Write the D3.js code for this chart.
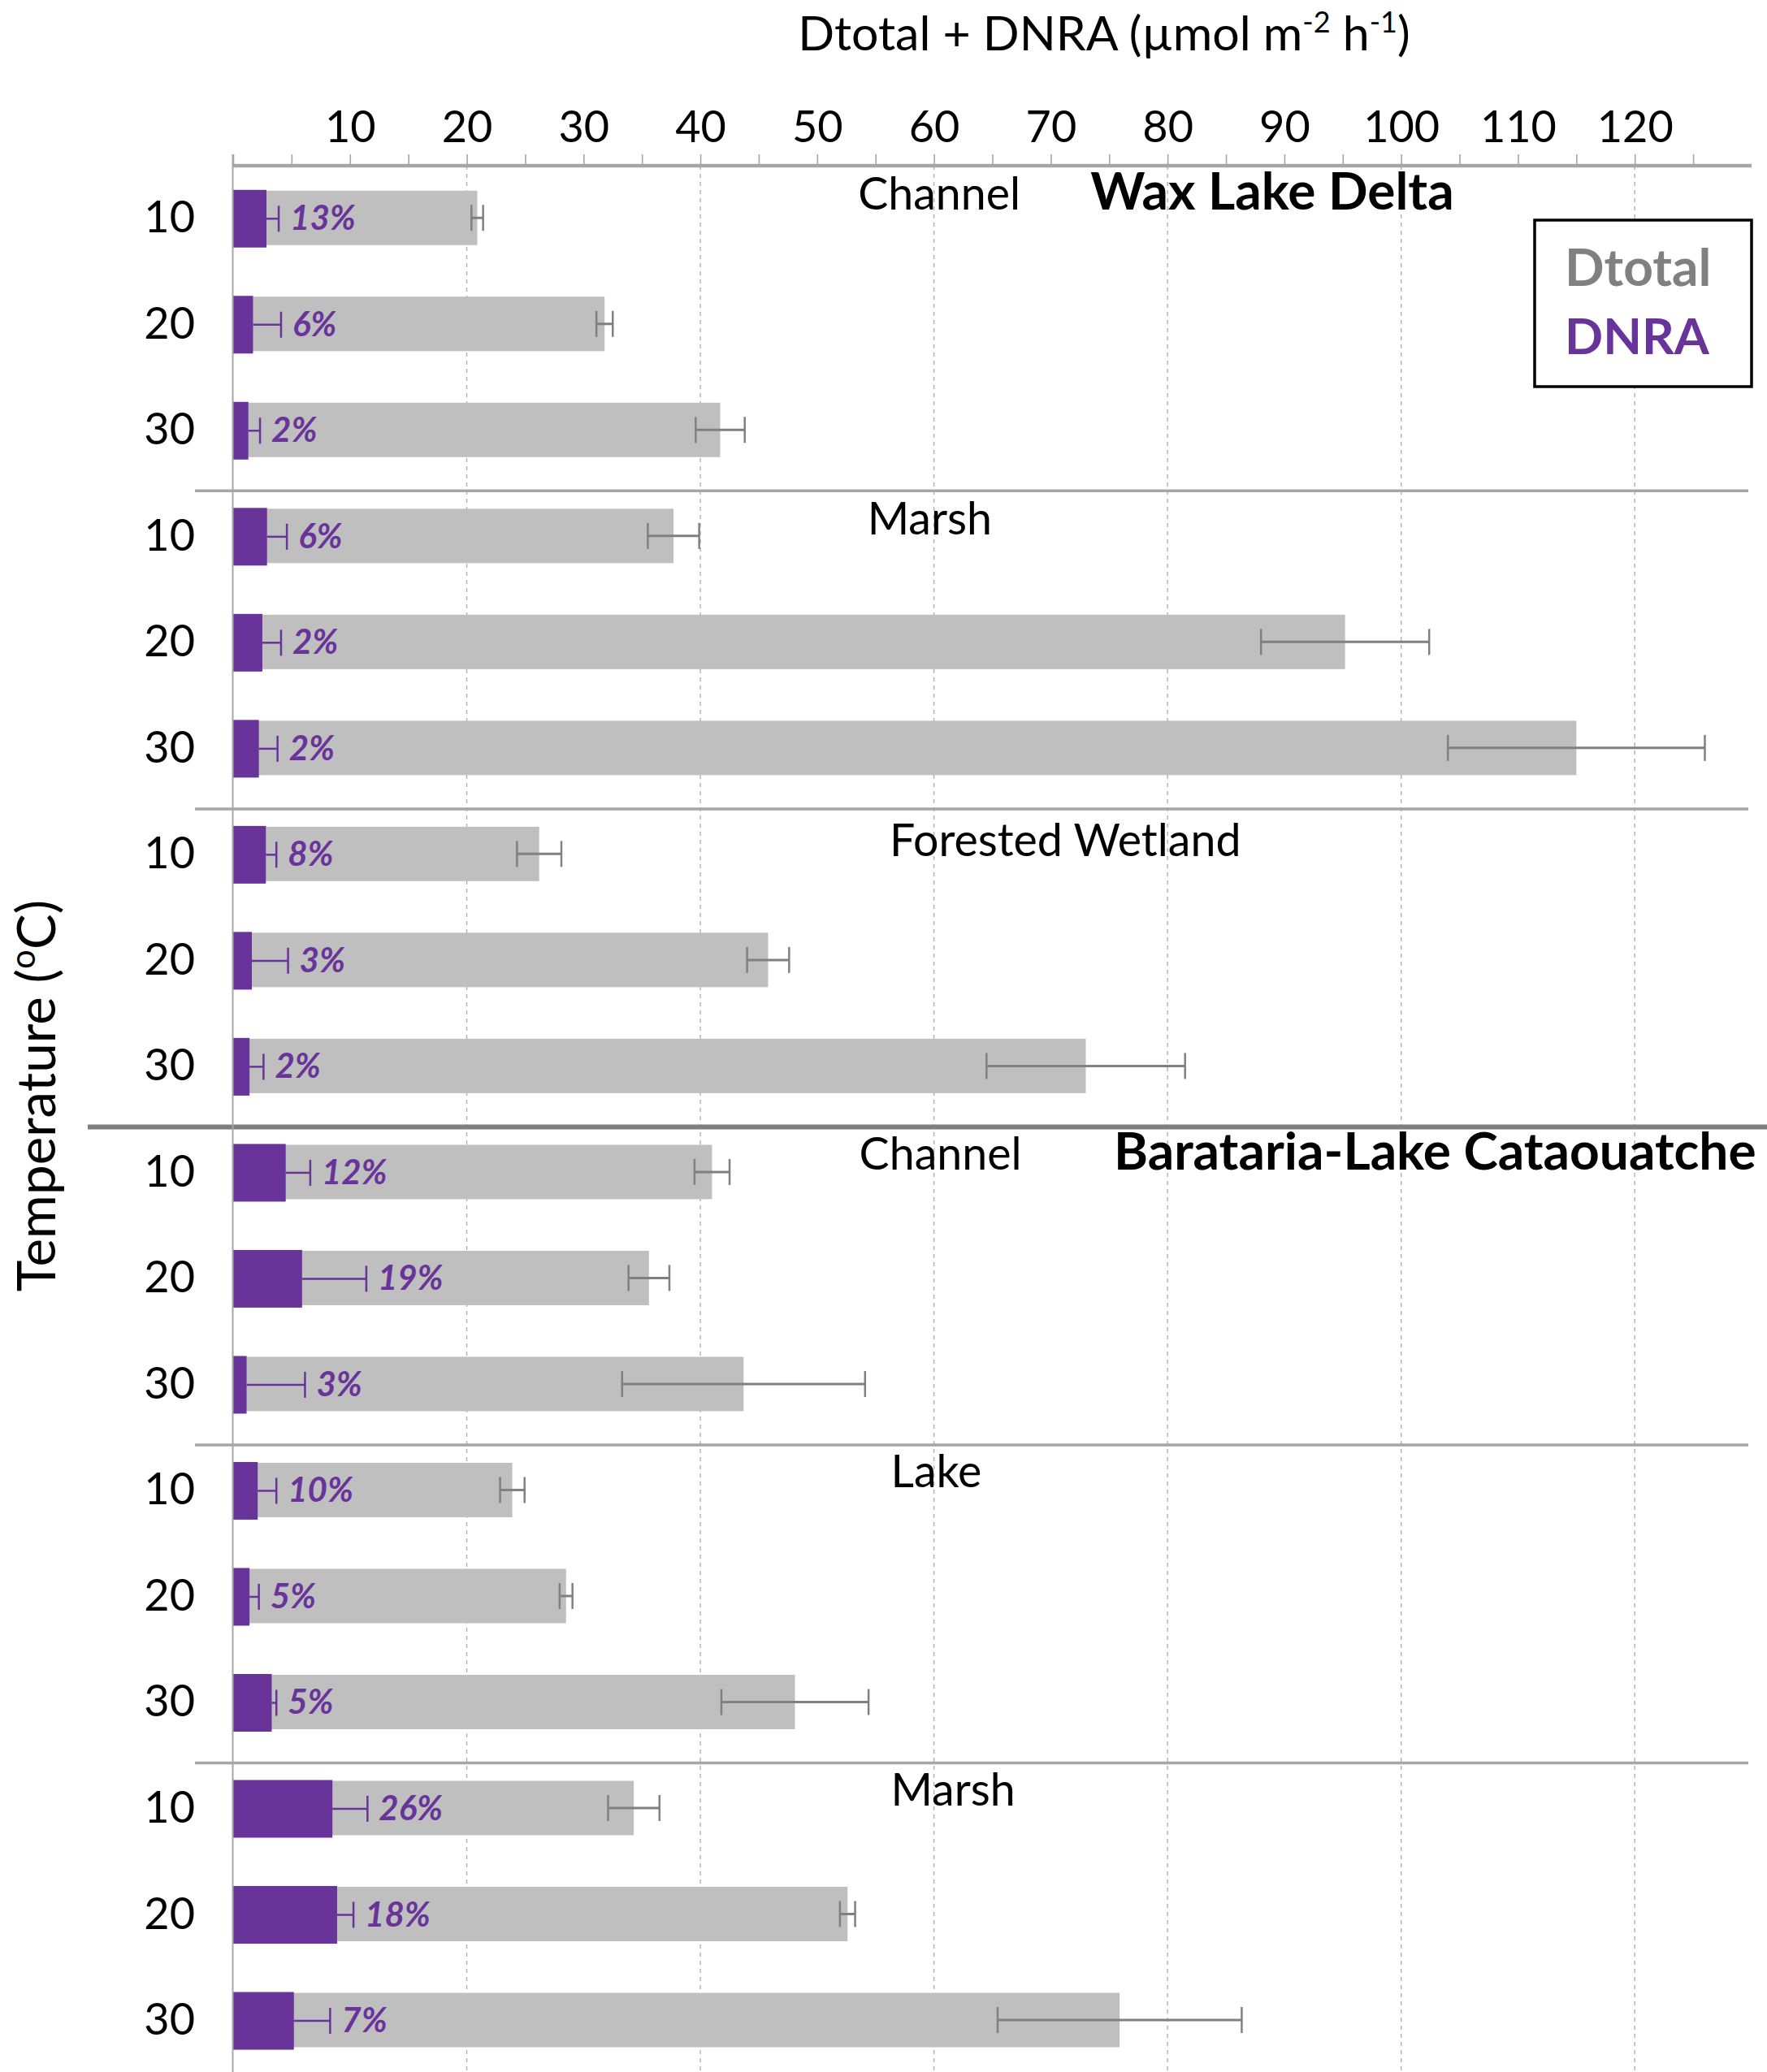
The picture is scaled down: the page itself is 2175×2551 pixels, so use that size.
<!DOCTYPE html>
<html>
<head>
<meta charset="utf-8">
<script src="https://cdn.jsdelivr.net/npm/d3@7"></script>
<style>
  html, body { margin: 0; padding: 0; background: #fff; }
  svg { display: block; font-family: Lato, "Noto Sans", sans-serif; }
</style>
</head>
<body>
<svg id="chart" width="2175" height="2551"></svg>
<script>
// ---- data ----
const deltas = ["Wax Lake Delta", "Barataria-Lake Cataouatche"];
const habitats = ["Channel", "Marsh", "Forested Wetland", "Channel", "Lake", "Marsh"];
const temperatures = [10, 20, 30, 10, 20, 30, 10, 20, 30, 10, 20, 30, 10, 20, 30, 10, 20, 30];
// Dtotal + DNRA, µmol m-2 h-1 (mean and error)
const totalFlux = [20.9, 31.8, 41.7, 37.7, 95.2, 115.0, 26.2, 45.8, 73.0, 41.0, 35.6, 43.7, 23.9, 28.5, 48.1, 34.3, 52.6, 75.9];
const totalErr  = [0.5, 0.7, 2.1, 2.2, 7.2, 11.0, 1.9, 1.8, 8.5, 1.5, 1.75, 10.4, 1.05, 0.55, 6.3, 2.2, 0.65, 10.45];
// DNRA, µmol m-2 h-1 (mean and error)
const dnraFlux  = [2.85, 1.7, 1.3, 2.9, 2.5, 2.2, 2.8, 1.6, 1.4, 4.5, 5.9, 1.15, 2.1, 1.4, 3.3, 8.5, 8.9, 5.2];
const dnraErr   = [1.05, 2.4, 1.0, 1.7, 1.6, 1.6, 0.9, 3.1, 1.2, 2.1, 5.5, 5.0, 1.6, 0.8, 0.4, 3.0, 1.4, 3.1];
// DNRA share of the total, %
const dnraShare = [13, 6, 2, 6, 2, 2, 8, 3, 2, 12, 19, 3, 10, 5, 5, 26, 18, 7];
const xTickLabels = [10, 20, 30, 40, 50, 60, 70, 80, 90, 100, 110, 120];

// ---- layout ----
const W = 2175, H = 2551;
const C = {
  purple: "#68349a",
  gray: "#bfbfbf",
  errGray: "#808080",
  axis: "#a6a6a6",
  grid: "#b4b4b4"
};
// habitat label placement: x in data units, vertical offset from the first row of the group
const habitatLabelPos = [
  { x: 53.5, dy: -10 }, { x: 54.3, dy: -2 }, { x: 56.2, dy: 3 },
  { x: 53.6, dy: -3 },  { x: 56.3, dy: -3 }, { x: 56.3, dy: -3 }
];
const deltaLabelPos = [{ x: 73.4, row: 0, dy: -10 }, { x: 75.4, row: 9, dy: -3 }];

const svg = d3.select("#chart");

const x = d3.scaleLinear().domain([0, 130]).range([287, 2156]);
const rows = d3.range(totalFlux.length);
const y = d3.scalePoint().domain(rows).range([203, 2552.3]).padding(0.5);
const step = y.step();
const axisY = 204;

// vertical dashed gridlines
svg.append("g").selectAll("line")
  .data(d3.range(20, 121, 20))
  .join("line")
  .attr("x1", d => x(d)).attr("x2", d => x(d))
  .attr("y1", axisY).attr("y2", H)
  .attr("stroke", C.grid).attr("stroke-width", 1.5)
  .attr("stroke-dasharray", "5,5");

// Dtotal + DNRA bars
const grayH = 67, purpleH = 71;
svg.append("g").selectAll("rect")
  .data(rows)
  .join("rect")
  .attr("x", x(0))
  .attr("y", i => y(i) - grayH / 2)
  .attr("width", i => x(totalFlux[i]) - x(0))
  .attr("height", grayH)
  .attr("fill", C.gray);

// error bars of the totals
const capH = 32;
const eg = svg.append("g").attr("stroke", C.errGray);
eg.selectAll("line.h")
  .data(rows).join("line").attr("class", "h")
  .attr("x1", i => x(totalFlux[i] - totalErr[i]))
  .attr("x2", i => x(totalFlux[i] + totalErr[i]))
  .attr("y1", i => y(i)).attr("y2", i => y(i))
  .attr("stroke-width", 3);
eg.selectAll("line.lo")
  .data(rows).join("line").attr("class", "lo")
  .attr("x1", i => x(totalFlux[i] - totalErr[i]))
  .attr("x2", i => x(totalFlux[i] - totalErr[i]))
  .attr("y1", i => y(i) - capH / 2).attr("y2", i => y(i) + capH / 2)
  .attr("stroke-width", 2.5);
eg.selectAll("line.hi")
  .data(rows).join("line").attr("class", "hi")
  .attr("x1", i => x(totalFlux[i] + totalErr[i]))
  .attr("x2", i => x(totalFlux[i] + totalErr[i]))
  .attr("y1", i => y(i) - capH / 2).attr("y2", i => y(i) + capH / 2)
  .attr("stroke-width", 2.5);

// DNRA bars
svg.append("g").selectAll("rect")
  .data(rows)
  .join("rect")
  .attr("x", x(0))
  .attr("y", i => y(i) - purpleH / 2 + 1)
  .attr("width", i => x(dnraFlux[i]) - x(0))
  .attr("height", purpleH)
  .attr("fill", C.purple);

// DNRA error bars (upper side)
const ep = svg.append("g").attr("stroke", C.purple).attr("stroke-width", 2.5);
ep.selectAll("line.h")
  .data(rows).join("line").attr("class", "h")
  .attr("x1", i => x(dnraFlux[i]))
  .attr("x2", i => x(dnraFlux[i] + dnraErr[i]))
  .attr("y1", i => y(i) + 1).attr("y2", i => y(i) + 1);
ep.selectAll("line.hi")
  .data(rows).join("line").attr("class", "hi")
  .attr("x1", i => x(dnraFlux[i] + dnraErr[i]))
  .attr("x2", i => x(dnraFlux[i] + dnraErr[i]))
  .attr("y1", i => y(i) + 1 - capH / 2).attr("y2", i => y(i) + 1 + capH / 2);

// DNRA share labels
svg.append("g").selectAll("text")
  .data(rows)
  .join("text")
  .attr("x", i => x(dnraFlux[i] + dnraErr[i]) + 14)
  .attr("y", i => y(i) + 15)
  .attr("fill", C.purple)
  .attr("font-size", 42)
  .attr("font-weight", 700)
  .attr("font-style", "italic")
  .text(i => dnraShare[i] + "%");

// group separators
const sepAfter = [2, 5, 8, 11, 14];
svg.append("g").selectAll("line")
  .data(sepAfter)
  .join("line")
  .attr("x1", r => r === 8 ? 108 : 240)
  .attr("x2", r => r === 8 ? W : 2152)
  .attr("y1", r => y(r) + step * 0.575)
  .attr("y2", r => y(r) + step * 0.575)
  .attr("stroke", r => r === 8 ? "#7f7f7f" : C.axis)
  .attr("stroke-width", r => r === 8 ? 6 : 3.5);

// vertical axis line
svg.append("line")
  .attr("x1", x(0) - 0.5).attr("x2", x(0) - 0.5)
  .attr("y1", 190).attr("y2", H)
  .attr("stroke", C.axis).attr("stroke-width", 2);

// top axis: minor ticks every 5, labels every 10
const minorAxis = d3.axisTop(x).tickValues(d3.range(0, 130, 5)).tickSize(14).tickFormat("");
const gMinor = svg.append("g").attr("transform", `translate(0,${axisY})`).call(minorAxis);
gMinor.select(".domain").remove();
gMinor.selectAll(".tick line").attr("stroke", C.axis).attr("stroke-width", 1.6);

const labelAxis = d3.axisTop(x).tickValues(xTickLabels).tickSize(0).tickPadding(29);
const gLab = svg.append("g").attr("transform", `translate(0,${axisY})`).call(labelAxis);
gLab.select(".domain").remove();
gLab.selectAll(".tick text")
  .attr("font-family", "Lato, sans-serif")
  .attr("font-size", 54)
  .attr("fill", "#000");

svg.append("line")
  .attr("x1", x(0)).attr("x2", x(130))
  .attr("y1", axisY).attr("y2", axisY)
  .attr("stroke", C.axis).attr("stroke-width", 4.5);

// temperature labels
svg.append("g").selectAll("text")
  .data(rows)
  .join("text")
  .attr("x", 240)
  .attr("y", i => y(i) + 18)
  .attr("text-anchor", "end")
  .attr("font-size", 54)
  .attr("fill", "#000")
  .text(i => temperatures[i]);

// habitat labels
svg.append("g").selectAll("text")
  .data(habitats)
  .join("text")
  .attr("x", (d, k) => x(habitatLabelPos[k].x))
  .attr("y", (d, k) => y(k * 3) + habitatLabelPos[k].dy)
  .attr("font-size", 55.5)
  .attr("fill", "#000")
  .text(d => d);

// delta labels
svg.append("g").selectAll("text")
  .data(deltas)
  .join("text")
  .attr("x", (d, k) => x(deltaLabelPos[k].x))
  .attr("y", (d, k) => y(deltaLabelPos[k].row) + deltaLabelPos[k].dy)
  .attr("font-size", 64)
  .attr("font-weight", 700)
  .attr("fill", "#000")
  .text(d => d);

// axis titles
const xt = svg.append("text")
  .attr("x", 1359).attr("y", 62)
  .attr("text-anchor", "middle")
  .attr("font-size", 59)
  .attr("fill", "#000");
xt.append("tspan").text("Dtotal + DNRA (µmol m");
xt.append("tspan").attr("font-size", 36).attr("dy", -22).text("-2");
xt.append("tspan").attr("dy", 22).text(" h");
xt.append("tspan").attr("font-size", 36).attr("dy", -22).text("-1");
xt.append("tspan").attr("dy", 22).text(")");

const yt = svg.append("text")
  .attr("transform", "translate(68,1349) rotate(-90)")
  .attr("text-anchor", "middle")
  .attr("font-size", 65.5)
  .attr("fill", "#000");
yt.append("tspan").text("Temperature (");
yt.append("tspan").attr("font-size", 42).attr("dy", -25).text("o");
yt.append("tspan").attr("dy", 25).text("C)");

// legend
const lg = svg.append("g");
lg.append("rect")
  .attr("x", 1889).attr("y", 271)
  .attr("width", 267).attr("height", 205)
  .attr("fill", "#fff").attr("stroke", "#000").attr("stroke-width", 3.5);
lg.append("text")
  .attr("x", 1926).attr("y", 352)
  .attr("font-size", 64).attr("font-weight", 700)
  .attr("fill", "#808080").text("Dtotal");
lg.append("text")
  .attr("x", 1926).attr("y", 436)
  .attr("font-size", 62).attr("font-weight", 700)
  .attr("fill", C.purple).text("DNRA");
</script>
</body>
</html>
